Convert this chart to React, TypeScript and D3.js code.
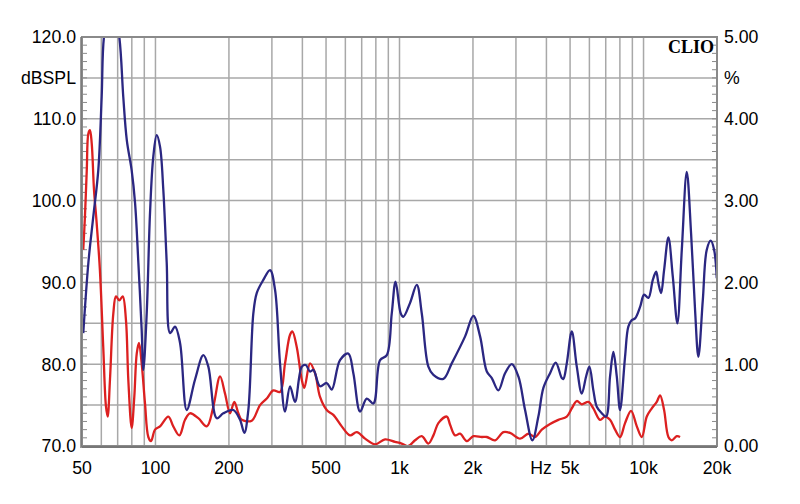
import React from "react";
import * as d3 from "d3";

// ---------- data ----------
const blueFreq = [50.6,53.1,55.6,58.3,60.2,61.5,66,71.1,73.8,76.3,79.9,82.5,85.1,87.8,89.2,92.1,95.0,98.0,101.2,104.4,107.7,111.2,114.8,120.3,126.1,134.3,145.2,157.1,164.7,178.3,189.7,208.5,222.1,231.3,240.2,251.8,260.0,276.7,294.8,309.0,323.9,339.6,356.0,373.2,397.7,412.9,430.0,443.6,472.5,503.3,527.6,570.5,617.1,647,689.5,734,781.6,832.6,887,929.6,963.7,1012,1037,1105,1177,1234,1313,1377,1512,1637,1857,2008,2139,2279,2389,2542,2708,2885,3070,3270,3503,3707,3887,4140,4369,4624,4693,4847,5081,5327,5584,5816,6000,6229,6433,6744,7023,7291,7523,7768,8013,8399,8664,8951,9233,9679,10053,10470,10914,11261,11507,11803,12140,12645,13180,13764,14349,15038,15661,16263,16776,17490,18159,18859,19459,19960];
const blueDb = [83.8,92.4,98.0,103.7,112.7,120.0,125.5,120.0,112.7,107.4,103.7,99.7,92.4,84.2,79.3,86.3,98.5,105.4,108.0,106.6,101.3,92.4,83.8,84.6,82.6,74.4,78.1,81.1,79.7,73.4,74.0,74.4,73.2,71.6,74.4,86.2,88.7,90.3,91.5,89.1,80.1,74.2,77.3,75.4,79.7,79.9,79.1,79.3,77.3,77.7,76.9,80.5,81.3,78.9,74.2,75.8,75.2,80.5,81.1,86.2,90.1,86.2,85.8,87.5,89.7,86.2,79.7,78.7,78.2,80.1,83.4,85.9,83.4,79.1,78.3,76.8,78.9,80.0,78.5,74.4,70.7,73.6,77.1,78.9,80.2,78.3,78.2,80.1,84.0,79.7,76.4,78.5,79.7,76.8,74.8,74.0,73.6,78.5,81.5,78.5,74.4,80.9,84.6,85.4,85.6,87.0,88.5,88.1,90.3,91.3,89.9,88.7,91.5,95.5,90.7,85.0,94.0,103.5,96.0,86.6,80.9,87.8,94.0,95.1,94.0,90.5];

const redFreq = [50.6,51.4,52.3,53.1,53.9,54.8,56.0,57.4,59.2,61.1,62.7,63.7,65.1,67.2,68.9,71.1,73.4,75.7,77.4,79.9,81.9,83.8,85.6,87.8,90.6,93.5,95.9,99.6,104.4,112.9,118.3,125.3,132.2,138.5,149.8,162.3,172.6,183.9,192.8,202.1,210.4,218.6,225.7,248.1,268.2,285.8,304.1,323.9,339.6,356.0,363.8,379.2,397.7,407.5,430.0,450.7,472.5,503.3,535.6,579.8,627.2,668.2,722.6,794.0,872.7,959.0,1021,1087,1158,1234,1313,1377,1443,1562,1612,1690,1771,1887,2008,2173,2279,2464,2665,2839,3120,3374,3594,3828,4140,4477,4847,5081,5327,5584,5943,6229,6637,6954,7291,7646,8013,8399,8891,9385,9839,10312,10809,11329,11692,12140,12645,13054,13685,14116];
const redDb = [94.0,98.0,103.7,108.2,108.6,107.0,101.3,97.3,91.5,82.1,74.8,73.6,78.1,86.2,88.3,87.8,88.3,85.4,78.1,72.2,76.0,81.3,82.6,80.1,75.2,71.1,70.6,72.0,72.4,73.6,72.4,71.3,73.2,74.0,73.4,72.4,74.8,78.5,76.4,74.0,75.4,74.0,73.2,73.1,75.0,75.8,76.8,76.6,80.1,83.6,84.0,82.1,78.1,77.1,80.1,78.9,76.0,74.4,73.8,72.4,71.3,71.7,70.9,70.2,70.8,70.5,70.3,70.0,70.7,71.2,70.3,71.3,72.8,73.6,72.6,71.3,71.5,70.6,71.2,71.1,71.1,70.7,71.7,71.6,70.9,71.5,71.1,72.0,72.7,73.2,73.6,74.6,75.5,75.1,75.4,74.6,73.2,73.6,73.2,72.0,71.1,72.8,74.3,72.4,71.1,73.6,74.6,75.4,76.2,74.4,71.1,70.7,71.2,71.1];

const xTickValues = [50, 100, 200, 500, 1000, 2000, 5000, 10000, 20000];
const xTickLabels = ["50", "100", "200", "500", "1k", "2k", "5k", "10k", "20k"];
const xGridValues = [60, 70, 80, 90, 100, 200, 300, 400, 500, 600, 700, 800, 900, 1000, 2000, 3000, 4000, 5000, 6000, 7000, 8000, 9000, 10000];
const yLeftTicks = [70, 80, 90, 100, 110, 120];
const yRightTicks = [0, 1, 2, 3, 4, 5];

// ---------- layout ----------
const W = 800, H = 504;
const L = 82, R = 717, T = 37, B = 446;

export default function App() {
  const x = d3.scaleLog().domain([50, 20000]).range([L, R]);
  const y = d3.scaleLinear().domain([70, 120]).range([B, T]);
  const yR = d3.scaleLinear().domain([0, 5]).range([B, T]);

  const line = d3
    .line<[number, number]>()
    .x((d) => x(d[0]))
    .y((d) => y(d[1]))
    .curve(d3.curveCatmullRom.alpha(0.5));

  const blue = line(blueFreq.map((f, i) => [f, blueDb[i]] as [number, number])) || "";
  const red = line(redFreq.map((f, i) => [f, redDb[i]] as [number, number])) || "";

  const hGrid = d3.range(75, 120, 5);
  const leftMinor = d3.range(71, 120, 1);
  const rightMinor = d3.range(0.1, 5, 0.1);
  const font = "'Liberation Sans', Arial, sans-serif";
  const gridC = "#a8a8a8";
  const frameC = "#8a8a8a";
  const fs = 17.7;

  return (
    <svg width={W} height={H} style={{ position: "absolute", left: 0, top: 0, background: "#fff" }}>
      <rect x={0} y={0} width={W} height={H} fill="#fff" />
      <defs>
        <clipPath id="plot">
          <rect x={L} y={T} width={R - L} height={B - T} />
        </clipPath>
      </defs>
      {/* grid */}
      {hGrid.map((v) => (
        <line key={"h" + v} x1={L} x2={R} y1={y(v)} y2={y(v)} stroke={gridC} strokeWidth={1.5} />
      ))}
      {xGridValues.map((v) => (
        <line key={"v" + v} x1={x(v)} x2={x(v)} y1={T} y2={B} stroke={gridC} strokeWidth={1.5} />
      ))}
      {/* minor ticks */}
      {leftMinor.map((v) => (
        <line key={"lm" + v} x1={L} x2={L + 5} y1={y(v)} y2={y(v)} stroke={frameC} strokeWidth={1} />
      ))}
      {rightMinor.map((v, i) => (
        <line key={"rm" + i} x1={R - 5} x2={R} y1={yR(v)} y2={yR(v)} stroke={frameC} strokeWidth={1} />
      ))}
      {/* curves */}
      <g clipPath="url(#plot)">
        <path d={red} fill="none" stroke="#dc2020" strokeWidth={2.3} strokeLinejoin="round" />
        <path d={blue} fill="none" stroke="#2b2782" strokeWidth={2.3} strokeLinejoin="round" />
      </g>
      {/* frame */}
      <rect x={L} y={T} width={R - L} height={B - T} fill="none" stroke={frameC} strokeWidth={2} />
      <line x1={L} x2={R} y1={B + 1} y2={B + 1} stroke="#777" strokeWidth={2} />
      <line x1={L - 1} x2={L - 1} y1={T} y2={B + 2} stroke="#777" strokeWidth={1.5} />
      {/* left labels */}
      {yLeftTicks.map((v) => (
        <text key={"yl" + v} x={76} y={y(v)} dy="0.36em" textAnchor="end" fontFamily={font} fontSize={fs} fill="#000">
          {v.toFixed(1)}
        </text>
      ))}
      <text x={76} y={y(115)} dy="0.36em" textAnchor="end" fontFamily={font} fontSize={fs} fill="#000">dBSPL</text>
      {/* right labels */}
      {yRightTicks.map((v) => (
        <text key={"yr" + v} x={724} y={yR(v)} dy="0.36em" textAnchor="start" fontFamily={font} fontSize={fs} fill="#000">
          {v.toFixed(2)}
        </text>
      ))}
      <text x={724} y={yR(4.5)} dy="0.36em" textAnchor="start" fontFamily={font} fontSize={fs} fill="#000">%</text>
      {/* bottom labels */}
      {xTickValues.map((v, i) => (
        <text key={"xl" + v} x={x(v)} y={474} textAnchor="middle" fontFamily={font} fontSize={fs} fill="#000">
          {xTickLabels[i]}
        </text>
      ))}
      <text x={541} y={474} textAnchor="middle" fontFamily={font} fontSize={fs} fill="#000">Hz</text>
      <text x={714} y={53} textAnchor="end" fontFamily="'Liberation Serif', 'Times New Roman', serif" fontWeight="bold" fontSize={18} fill="#000">CLIO</text>
    </svg>
  );
}
